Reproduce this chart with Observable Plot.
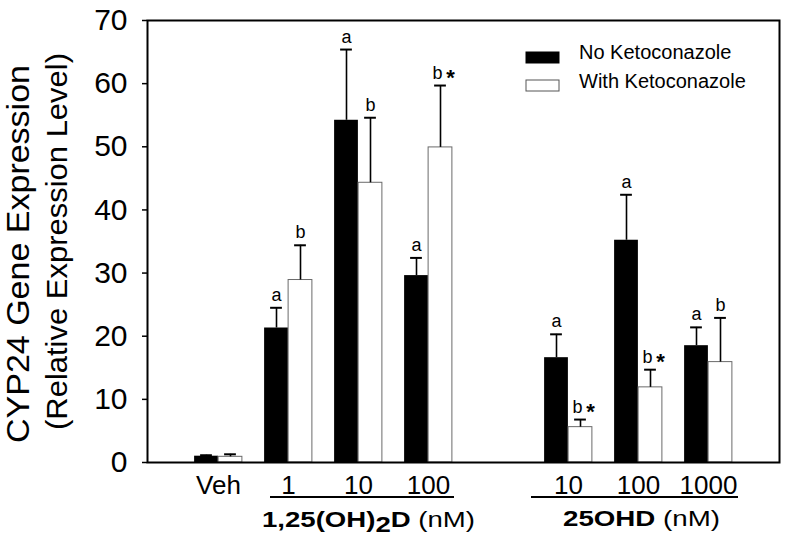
<!DOCTYPE html>
<html>
<head>
<meta charset="utf-8">
<script src="https://cdn.jsdelivr.net/npm/d3@7"></script>
<script src="https://cdn.jsdelivr.net/npm/@observablehq/plot@0.6"></script>
<style>
  html, body { margin: 0; padding: 0; background: #fff; }
  svg { display: block; }
</style>
</head>
<body>
<div id="chart"></div>
<script>
// ---- data ----
const slots = ["Veh", "D1", "D10", "D100", "gap", "H10", "H100", "H1000"];
const tickLabels = ["Veh", "1", "10", "100", "", "10", "100", "1000"];
const noKeto    = [1.0, 21.3, 54.2, 29.6, null, 16.6, 35.2, 18.5];
const noKetoErr = [0.15, 3.2, 11.2, 2.8, null, 3.7, 7.2, 2.9];
const withKeto    = [0.9, 28.9, 44.3, 49.9, null, 5.6, 11.9, 15.9];
const withKetoErr = [0.4, 5.5, 10.3, 9.8, null, 1.2, 2.8, 7.0];
const noKetoLetters   = ["", "a", "a", "a", "", "a", "a", "a"];
const withKetoLetters = ["", "b", "b", "b", "", "b", "b", "b"];
const withKetoStars   = [false, false, false, true, false, true, true, false];
const yTicks = [0, 10, 20, 30, 40, 50, 60, 70];
const groupMembers = [["D1", "D10", "D100"], ["H10", "H100", "H1000"]];
const seriesNames = ["No Ketoconazole", "With Ketoconazole"];

const rowsA = slots.map((s, i) => ({slot: s, v: noKeto[i], e: noKetoErr[i], lab: noKetoLetters[i]})).filter(d => d.v != null);
const rowsB = slots.map((s, i) => ({slot: s, v: withKeto[i], e: withKetoErr[i], lab: withKetoLetters[i], star: withKetoStars[i]})).filter(d => d.v != null);
const labelOf = new Map(slots.map((s, i) => [s, tickLabels[i]]));

const FONT = "'Liberation Sans', Arial, Helvetica, sans-serif";
const bw = 632 / 9; // band width in px
const half = bw / 2;
const errTop = d => d.v + d.e;

const plot = Plot.plot({
  width: 800,
  height: 551,
  marginLeft: 147,
  marginRight: 21,
  marginTop: 20,
  marginBottom: 89,
  style: {fontFamily: FONT, color: "black", background: "white"},
  x: {type: "band", domain: slots, paddingInner: 0, paddingOuter: 0.5},
  y: {domain: [0, 70]},
  marks: [
    Plot.barY(rowsA, {x: "slot", y: "v", fill: "black", insetLeft: half - 24, insetRight: half}),
    Plot.barY(rowsB, {x: "slot", y: "v", fill: "white", stroke: "#6a6a6a", strokeWidth: 1, insetLeft: half, insetRight: half - 24}),
    Plot.ruleX(rowsA, {x: "slot", y1: "v", y2: errTop, stroke: "black", strokeWidth: 1.6, dx: -12}),
    Plot.ruleX(rowsB, {x: "slot", y1: "v", y2: errTop, stroke: "black", strokeWidth: 1.6, dx: 12}),
    Plot.tickY(rowsA, {x: "slot", y: errTop, stroke: "black", strokeWidth: 2, insetLeft: half - 6, insetRight: half - 6, dx: -12}),
    Plot.tickY(rowsB, {x: "slot", y: errTop, stroke: "black", strokeWidth: 2, insetLeft: half - 6, insetRight: half - 6, dx: 12}),
    Plot.text(rowsA, {x: "slot", y: errTop, text: "lab", dx: -12, dy: -7, lineAnchor: "bottom", fontSize: 18, fill: "black"}),
    Plot.text(rowsB.filter(d => !d.star), {x: "slot", y: errTop, text: "lab", dx: 12, dy: -7, lineAnchor: "bottom", fontSize: 18, fill: "black"}),
    Plot.text(rowsB.filter(d => d.star), {x: "slot", y: errTop, text: "lab", dx: 9, dy: -7, lineAnchor: "bottom", fontSize: 18, fill: "black"}),
    Plot.text(rowsB.filter(d => d.star), {x: "slot", y: errTop, text: () => "*", dx: 22, dy: -1, lineAnchor: "bottom", fontSize: 22, fontWeight: "bold", fill: "black"}),
    Plot.axisY({ticks: yTicks, tickSize: 5, tickPadding: 15, fontSize: 30, label: null, strokeWidth: 1.5}),
    Plot.axisX({tickSize: 0, tickPadding: 13, fontSize: 26, label: null, tickFormat: d => labelOf.get(d)}),
    Plot.frame({stroke: "black", strokeWidth: 2})
  ]
});

const svg = d3.select(plot);
const xs = plot.scale("x");
const cx = s => xs.apply(s) + xs.bandwidth / 2;

// group underline
const offsets = [[-18, 26], [-37, 30]];
groupMembers.forEach((m, gi) => {
  const x1 = cx(m[0]) + offsets[gi][0];
  const x2 = cx(m[m.length - 1]) + offsets[gi][1];
  svg.append("line").attr("x1", x1).attr("x2", x2).attr("y1", 497).attr("y2", 497)
    .attr("stroke", "black").attr("stroke-width", 2);
});
// group titles
{
  const t = svg.append("text").attr("x", 262).attr("y", 527).attr("text-anchor", "start")
    .attr("font-family", FONT).attr("font-size", 22).attr("fill", "black")
    .attr("textLength", 213).attr("lengthAdjust", "spacingAndGlyphs");
  t.append("tspan").attr("font-weight", "bold").text("1,25(OH)");
  t.append("tspan").attr("font-weight", "bold").attr("dy", 5).text("2");
  t.append("tspan").attr("font-weight", "bold").attr("dy", -5).text("D");
  t.append("tspan").text(" (nM)");
}
{
  const t = svg.append("text").attr("x", 563).attr("y", 526).attr("text-anchor", "start")
    .attr("font-family", FONT).attr("font-size", 22).attr("fill", "black")
    .attr("textLength", 157).attr("lengthAdjust", "spacingAndGlyphs");
  t.append("tspan").attr("font-weight", "bold").text("25OHD");
  t.append("tspan").text(" (nM)");
}

// y title (two lines)
{
  const g = svg.append("g").attr("transform", "rotate(-90)");
  g.append("text").attr("x", -443).attr("y", 29).attr("text-anchor", "start")
    .attr("font-family", FONT).attr("font-size", 31)
    .attr("textLength", 378).attr("lengthAdjust", "spacingAndGlyphs")
    .text("CYP24 Gene Expression");
  g.append("text").attr("x", -430).attr("y", 67).attr("text-anchor", "start")
    .attr("font-family", FONT).attr("font-size", 30)
    .attr("textLength", 377).attr("lengthAdjust", "spacingAndGlyphs")
    .text("(Relative Expression Level)");
}

// legend
{
  const fills = ["black", "white"];
  const ysw = [52, 80];
  const base = [59, 88];
  seriesNames.forEach((n, i) => {
    svg.append("rect").attr("x", 526).attr("y", ysw[i]).attr("width", 33).attr("height", 11)
      .attr("fill", fills[i]).attr("stroke", i ? "#555" : "black").attr("stroke-width", 1);
    svg.append("text").attr("x", 579).attr("y", base[i]).attr("text-anchor", "start")
      .attr("font-family", FONT).attr("font-size", 20).text(n);
  });
}

document.getElementById("chart").appendChild(plot);
</script>
</body>
</html>
